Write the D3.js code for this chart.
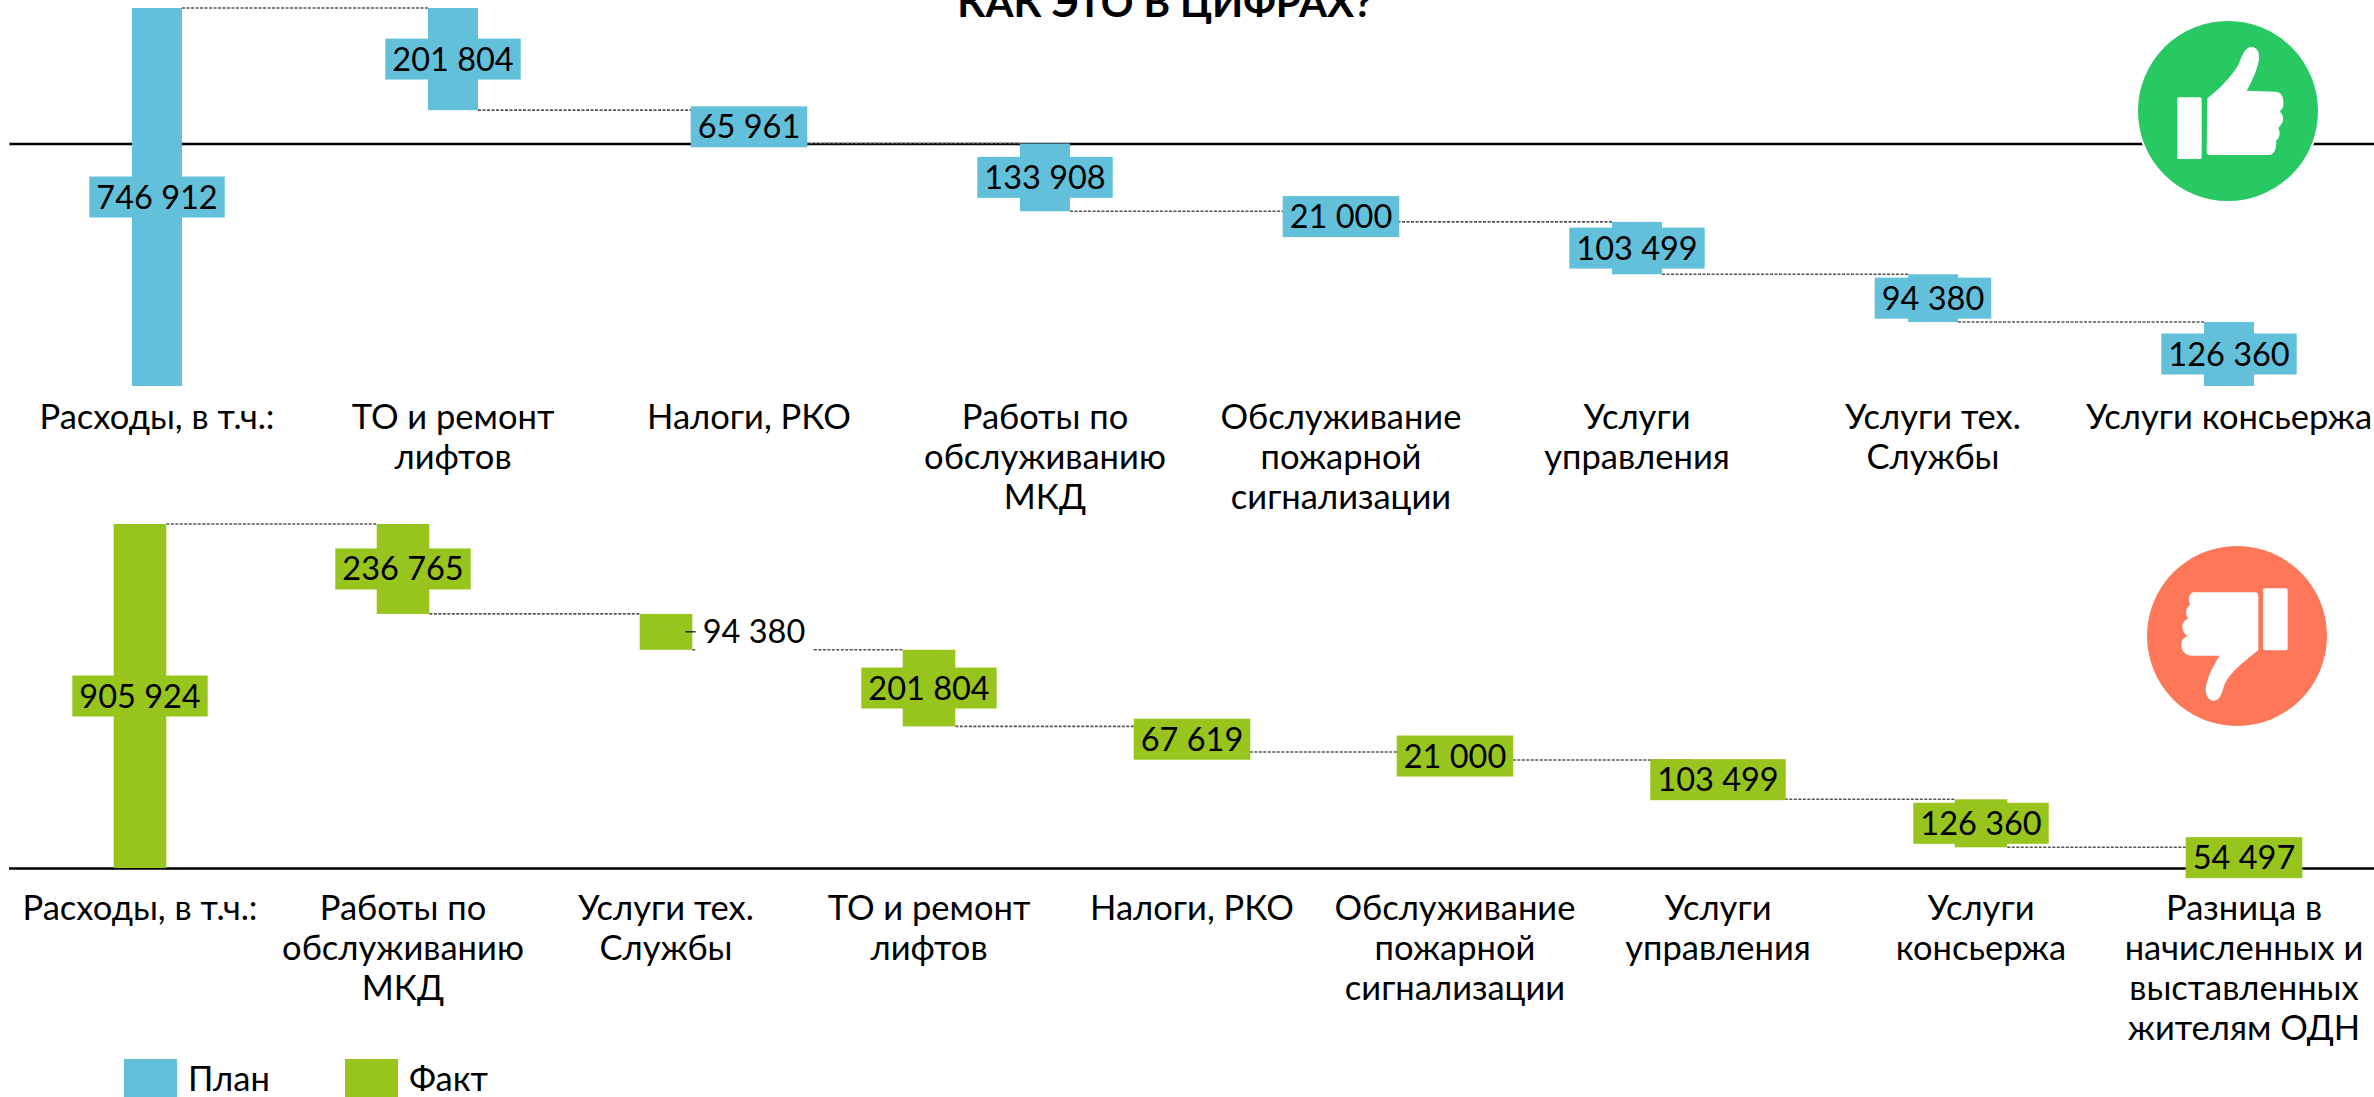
<!DOCTYPE html>
<html>
<head>
<meta charset="utf-8">
<script src="https://cdn.jsdelivr.net/npm/d3@7"></script>
<style>
    html, body { margin: 0; padding: 0; background: #fff; overflow: hidden; }
    text { font-family: Lato, "Open Sans", sans-serif; fill: #000; }
</style>
</head>
<body>
<svg id="chart" width="2374" height="1097"></svg>
<script>
// Data
const planCategories = [
    "Расходы, в т.ч.:", "ТО и ремонт|лифтов", "Налоги, РКО", "Работы по|обслуживанию|МКД",
    "Обслуживание|пожарной|сигнализации", "Услуги|управления", "Услуги тех.|Службы", "Услуги консьержа"
];
const planValues = [746912, 201804, 65961, 133908, 21000, 103499, 94380, 126360];

const factCategories = [
    "Расходы, в т.ч.:", "Работы по|обслуживанию|МКД", "Услуги тех.|Службы", "ТО и ремонт|лифтов", "Налоги, РКО",
    "Обслуживание|пожарной|сигнализации", "Услуги|управления", "Услуги|консьержа",
    "Разница в|начисленных и|выставленных|жителям ОДН"
];
const factValues = [905924, 236765, 94380, 201804, 67619, 21000, 103499, 126360, 54497];

const legendItems = ["План", "Факт"];
const title = "КАК ЭТО В ЦИФРАХ?";

const planColor = "#62c0da";
const factColor = "#97c41d";
const fontSize = 32.5;
const catFontSize = 34.5;

const svg = d3.select("#chart");
const format = d => d3.format(",")(d).replace(/,/g, " ");

// One waterfall: first bar is the total, the others step down from it
function drawWaterfall(config) {
    const { categories, values, color, xRange, yRange, barShare, axisY, labelY, outside } = config;

    const x = d3.scaleBand().domain(categories.map((d, i) => i)).range(xRange).paddingInner(0).paddingOuter(0);
    const y = d3.scaleLinear().domain([0, values[0]]).range(yRange);
    const barWidth = x.step() * barShare;
    const centre = i => x(i) + x.step() / 2;

    // Top and bottom level of each bar
    let level = values[0];
    const steps = values.map((v, i) => {
        if (i === 0) return { i, v, top: values[0], bottom: 0 };
        const s = { i, v, top: level, bottom: level - v };
        level -= v;
        return s;
    });

    const g = svg.append("g");

    // Axis with multi-line labels
    const axis = g.append("g")
        .attr("transform", `translate(0, ${axisY})`)
        .call(d3.axisBottom(x).tickSize(0).tickSizeOuter(0).tickFormat(""));
    axis.select(".domain").attr("stroke", "#000").attr("stroke-width", 2.5);
    axis.selectAll(".tick text").remove();

    const catLabels = g.append("g");
    categories.forEach((c, i) => {
        const t = catLabels.append("text")
            .attr("text-anchor", "middle")
            .style("font-size", catFontSize + "px");
        c.split("|").forEach((line, n) => {
            t.append("tspan")
                .attr("x", centre(i))
                .attr("y", labelY + n * 40)
                .text(line);
        });
    });

    // Dashed connectors
    g.selectAll(".connector")
        .data(steps.slice(0, -1))
        .join("line")
        .attr("class", "connector")
        .attr("x1", d => centre(d.i) + barWidth / 2)
        .attr("x2", d => centre(d.i + 1) - barWidth / 2)
        .attr("y1", d => y(d.i === 0 ? d.top : d.bottom))
        .attr("y2", d => y(d.i === 0 ? d.top : d.bottom))
        .attr("stroke", "#555")
        .attr("stroke-width", 1.6)
        .attr("stroke-dasharray", "3 1.5");

    // Bars
    g.selectAll(".bar")
        .data(steps)
        .join("rect")
        .attr("class", "bar")
        .attr("x", d => centre(d.i) - barWidth / 2)
        .attr("width", barWidth)
        .attr("y", d => y(d.top))
        .attr("height", d => y(d.bottom) - y(d.top))
        .attr("fill", color);

    // Value labels sit on a filled box, or outside the bar on white
    steps.forEach(d => {
        const isOutside = outside === d.i;
        const midY = (y(d.top) + y(d.bottom)) / 2;
        const lg = g.append("g");
        const box = lg.append("rect");
        const text = lg.append("text")
            .attr("text-anchor", "middle")
            .attr("y", midY + 11.5)
            .style("font-size", fontSize + "px")
            .text(format(d.v));
        const w = text.node().getComputedTextLength() + 14;
        const cx = isOutside ? centre(d.i) + 88 : centre(d.i);
        text.attr("x", cx);
        box.attr("x", cx - w / 2)
            .attr("width", w)
            .attr("y", midY - 20.5)
            .attr("height", 41)
            .attr("fill", isOutside ? "#fff" : color);
        if (isOutside) {
            lg.append("line")
                .attr("x1", centre(d.i) + barWidth / 2 - 7)
                .attr("x2", cx - w / 2)
                .attr("y1", midY)
                .attr("y2", midY)
                .attr("stroke", "#000")
                .attr("stroke-width", 1.2);
        }
    });
}

drawWaterfall({
    categories: planCategories, values: planValues, color: planColor,
    xRange: [9, 2377], yRange: [386, 8], barShare: 0.169,
    axisY: 143.6, labelY: 429
});

drawWaterfall({
    categories: factCategories, values: factValues, color: factColor,
    xRange: [8.5, 2375.5], yRange: [868, 524], barShare: 0.2,
    axisY: 868, labelY: 920, outside: 2
});

// Title, cut off by the top edge as in the slide
svg.append("text")
    .attr("x", 1165)
    .attr("y", 17)
    .attr("text-anchor", "middle")
    .style("font-size", "40.5px")
    .style("font-weight", "bold")
    .text(title);

// Legend
const legend = svg.append("g");
legendItems.forEach((name, i) => {
    const lx = 124 + i * 221;
    legend.append("rect")
        .attr("x", lx).attr("y", 1059)
        .attr("width", 53).attr("height", 38)
        .attr("fill", i === 0 ? planColor : factColor);
    legend.append("text")
        .attr("x", lx + 64).attr("y", 1091)
        .style("font-size", catFontSize + "px")
        .text(name);
});

// Thumb icons
const up = svg.append("g");
up.append("circle").attr("cx", 2228).attr("cy", 111).attr("r", 91).attr("fill", "#28c963")
    .attr("stroke", "#fff").attr("stroke-width", 2);
const upHand = up.append("g").attr("transform", "translate(2090, 10) scale(0.3333)").attr("fill", "#fff");
upHand.append("rect").attr("x", 262).attr("y", 262).attr("width", 73).attr("height", 185).attr("rx", 5);
upHand.append("path").attr("d", "M352,265 C385,240 420,205 445,165 C455,140 462,115 482,110 C500,110 510,125 507,150 C500,185 485,215 470,242 L555,245 C575,245 582,262 580,285 C580,295 572,300 570,305 C582,315 582,335 572,345 C570,350 565,352 565,355 C572,365 570,385 558,392 C560,405 558,430 540,435 L360,435 C352,435 350,430 350,425 Z");

const down = svg.append("g");
down.append("circle").attr("cx", 2237).attr("cy", 636).attr("r", 90).attr("fill", "#ff7759");
const downHand = down.append("g").attr("transform", "translate(2110, 520) scale(0.3333)").attr("fill", "#fff");
downHand.append("rect").attr("x", 459).attr("y", 205).attr("width", 74).attr("height", 186).attr("rx", 6);
downHand.append("path").attr("d", "M250,217 L435,217 C443,217 445,222 445,230 L445,390 C410,420 365,450 345,490 C335,515 335,540 310,543 C290,540 283,515 290,490 C297,460 315,430 328,407 L245,407 C220,405 210,385 215,365 C218,355 228,350 232,347 C220,340 215,325 218,312 C220,305 230,298 234,295 C226,285 225,265 240,255 C235,240 235,220 250,217 Z");
</script>
</body>
</html>
